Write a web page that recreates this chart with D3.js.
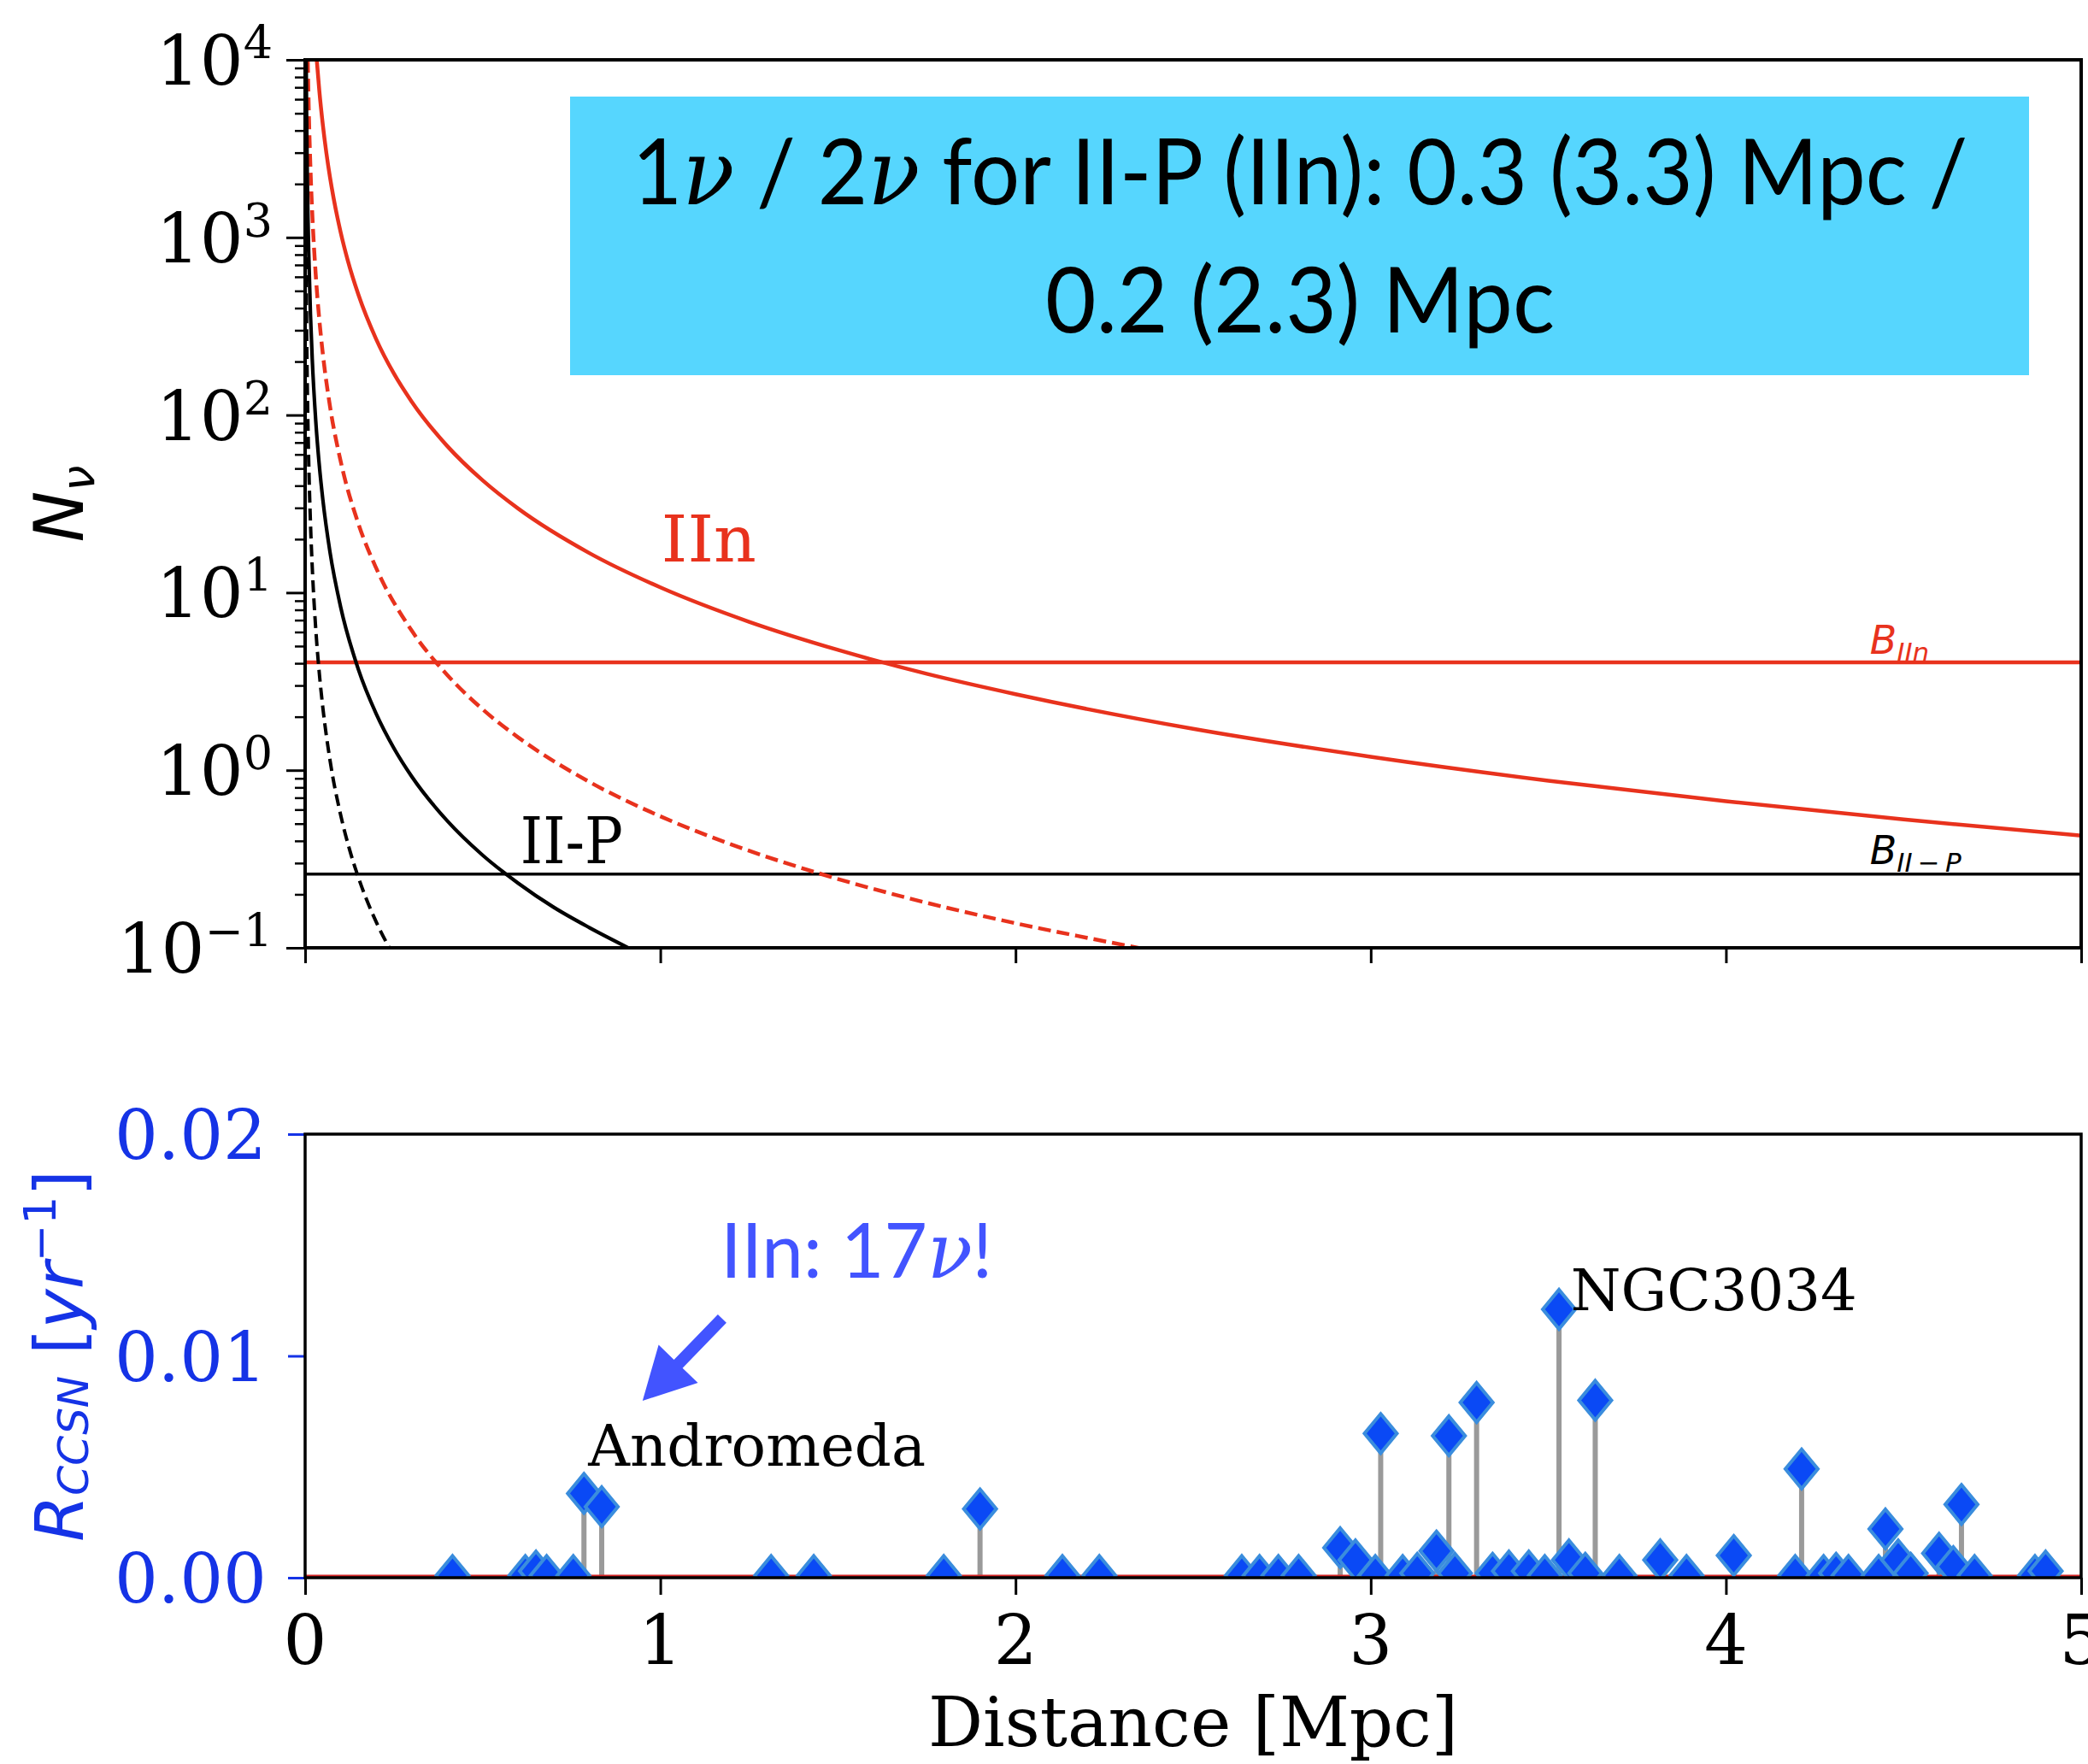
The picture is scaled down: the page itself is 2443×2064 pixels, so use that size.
<!DOCTYPE html>
<html>
<head>
<meta charset="utf-8">
<script src="https://cdn.jsdelivr.net/npm/d3@7"></script>
<style>
  html, body { margin: 0; padding: 0; background: #fff; }
  svg { display: block; }
</style>
</head>
<body>
<svg id="chart" width="2443" height="2064"></svg>
<script>
// ---------------------------------------------------------------
// Expected neutrino counts vs. distance (top) and core-collapse
// supernova rates of nearby galaxies (bottom).
// ---------------------------------------------------------------

// shared x axis (distance, Mpc)
const distanceTicks = [0, 1, 2, 3, 4, 5];
// top panel: log decades of N_nu
const countDecades = [-1, 0, 1, 2, 3, 4];
// bottom panel: rate ticks
const rateTicks = [0, 0.01, 0.02];
const rateTickLabels = ["0.00", "0.01", "0.02"];

// IIn, solid curve
const distIIn   = [0.0327, 0.04, 0.05, 0.06, 0.07, 0.08, 0.1, 0.12, 0.15, 0.2, 0.25, 0.3, 0.4, 0.5, 0.6, 0.8, 1.0, 1.25, 1.5, 1.75, 2.0, 2.5, 3.0, 3.5, 4.0, 4.5, 5.0];
const countsIIn = [10000, 6690, 4280, 2970, 2180, 1670, 1070, 743, 476, 267.5, 171, 119, 66.9, 42.8, 29.7, 16.7, 10.7, 6.85, 4.76, 3.49, 2.68, 1.71, 1.19, 0.873, 0.669, 0.528, 0.428];

// IIn, dashed curve
const distIInDashed   = [0.0074, 0.01, 0.015, 0.02, 0.03, 0.04, 0.05, 0.07, 0.1, 0.15, 0.2, 0.3, 0.4, 0.5, 0.6, 0.8, 1.0, 1.2, 1.44, 1.7, 2.0, 2.2, 2.35];
const countsIInDashed = [10000, 5500, 2444, 1375, 611, 344, 220, 112, 55, 24.4, 13.75, 6.11, 3.44, 2.2, 1.53, 0.86, 0.55, 0.382, 0.265, 0.19, 0.1375, 0.114, 0.0996];

// II-P, solid curve
const distIIP   = [0.0029, 0.004, 0.006, 0.008, 0.01, 0.015, 0.02, 0.03, 0.04, 0.05, 0.07, 0.1, 0.15, 0.2, 0.25, 0.3, 0.4, 0.5, 0.6, 0.7, 0.8, 0.91];
const countsIIP = [9870, 5190, 2306, 1297, 830, 369, 207.5, 92.2, 51.9, 33.2, 16.9, 8.3, 3.69, 2.08, 1.33, 0.922, 0.519, 0.332, 0.231, 0.169, 0.130, 0.100];

// II-P, dashed curve
const distIIPDashed   = [0.00075, 0.001, 0.002, 0.003, 0.005, 0.0075, 0.01, 0.015, 0.02, 0.03, 0.04, 0.05, 0.07, 0.1, 0.125, 0.15, 0.2, 0.237];
const countsIIPDashed = [10000, 5600, 1400, 622, 224, 99.6, 56, 24.9, 14, 6.22, 3.5, 2.24, 1.14, 0.56, 0.358, 0.249, 0.14, 0.1];

// background levels
const backgroundIIn = 4.05;
const backgroundIIP = 0.26;

// nearby galaxies: distance (Mpc) and CCSN rate (1/yr)
const galaxyDistance = [0.415, 0.62, 0.65, 0.68, 0.755, 0.785, 0.835, 1.312, 1.432, 1.798, 1.900, 2.132, 2.236,
  2.637, 2.687, 2.740, 2.797, 2.914, 2.957, 3.013, 3.028, 3.090, 3.131, 3.185, 3.220, 3.237, 3.298, 3.343,
  3.389, 3.445, 3.490, 3.530, 3.558, 3.604, 3.632, 3.700, 3.815, 3.889, 4.022, 4.195, 4.213, 4.275, 4.310,
  4.345, 4.430, 4.449, 4.485, 4.520, 4.600, 4.640, 4.663, 4.700, 4.870, 4.900];
const galaxyRate = [0.0001, 0.0001, 0.0003, 0.0001, 0.0001, 0.0038, 0.0032, 0.0001, 0.0001, 0.0001, 0.0031, 0.0001, 0.0001,
  0.0001, 0.0001, 0.0001, 0.0001, 0.00135, 0.0008, 0.0001, 0.0065, 0.0001, 0.0002, 0.0012, 0.0064, 0.0002, 0.0079, 0.0002,
  0.0003, 0.0003, 0.0001, 0.0121, 0.0008, 0.0002, 0.0080, 0.0001, 0.0008, 0.0001, 0.0010, 0.0001, 0.0049, 0.0001, 0.0002,
  0.0001, 0.0001, 0.0022, 0.0008, 0.0002, 0.0011, 0.0005, 0.0033, 0.0001, 0.0001, 0.0003];

// ---------------------------------------------------------------
const W = 2443, H = 2064;
const L = 357, R = 2435;
const T1 = 70, B1 = 1109;    // top panel
const T2 = 1327, B2 = 1846;  // bottom panel

const RED = "#e8321d";
const BLUE_AX = "#1533e6";
const BLUE_NOTE = "#4254ff";
const SERIF = "'DejaVu Serif', serif";
const SANS = "'DejaVu Sans', sans-serif";
const BOXFONT = "Lato, 'Open Sans', sans-serif";

const svg = d3.select("#chart");
svg.append("rect").attr("width", W).attr("height", H).attr("fill", "#fff");

const x = d3.scaleLinear().domain([0, 5]).range([L, R]);
const yN = d3.scaleLog().domain([0.1, 1e4]).range([B1, T1]);
const yR = d3.scaleLinear().domain([0, 0.02]).range([B2, T2]);

const defs = svg.append("defs");
defs.append("clipPath").attr("id", "clip-top").append("rect")
  .attr("x", L).attr("y", T1).attr("width", R - L).attr("height", B1 - T1);
defs.append("clipPath").attr("id", "clip-bot").append("rect")
  .attr("x", L).attr("y", T2).attr("width", R - L).attr("height", B2 - T2);

// text helper: parts are tspans; optional width fit by horizontal scaling
function addText(parent, px, py, parts, o) {
  const g = parent.append("g")
    .attr("transform", `translate(${px},${py})` + (o.rotate ? ` rotate(${o.rotate})` : ""));
  const t = g.append("text")
    .attr("text-anchor", o.anchor || "start")
    .attr("font-family", o.family || SERIF)
    .attr("font-size", o.size)
    .attr("fill", o.fill || "#000");
  if (o.weight) t.attr("font-weight", o.weight);
  parts.forEach(p => {
    const s = t.append("tspan").text(p.t);
    if (p.size) s.attr("font-size", p.size);
    if (p.style) s.attr("font-style", p.style);
    if (p.family) s.attr("font-family", p.family);
    if (p.weight) s.attr("font-weight", p.weight);
    if (p.dy) s.attr("dy", p.dy);
  });
  if (o.width) {
    const w = t.node().getComputedTextLength();
    if (w > 0) t.attr("transform", `scale(${o.width / w},1)`);
  }
  return t;
}

// ================= TOP PANEL =================
const panelTop = svg.append("g");
const plotTop = panelTop.append("g").attr("clip-path", "url(#clip-top)");

const lineN = (xs, ys) => d3.line()
  .x(i => x(xs[i])).y(i => yN(ys[i]))
  .curve(d3.curveMonotoneX)(d3.range(xs.length));

// background lines
plotTop.append("line")
  .attr("x1", x(0)).attr("x2", x(5)).attr("y1", yN(backgroundIIn)).attr("y2", yN(backgroundIIn))
  .attr("stroke", RED).attr("stroke-width", 4.5);
plotTop.append("line")
  .attr("x1", x(0)).attr("x2", x(5)).attr("y1", yN(backgroundIIP)).attr("y2", yN(backgroundIIP))
  .attr("stroke", "#000").attr("stroke-width", 3.5);

plotTop.append("path").attr("d", lineN(distIInDashed, countsIInDashed))
  .attr("fill", "none").attr("stroke", RED).attr("stroke-width", 4.5).attr("stroke-dasharray", "15,7");
plotTop.append("path").attr("d", lineN(distIIPDashed, countsIIPDashed))
  .attr("fill", "none").attr("stroke", "#000").attr("stroke-width", 4).attr("stroke-dasharray", "14,7");
plotTop.append("path").attr("d", lineN(distIIn, countsIIn))
  .attr("fill", "none").attr("stroke", RED).attr("stroke-width", 4.5);
plotTop.append("path").attr("d", lineN(distIIP, countsIIP))
  .attr("fill", "none").attr("stroke", "#000").attr("stroke-width", 4.2);

// y axis: major and minor ticks
const minorVals = [];
countDecades.slice(0, -1).forEach(k => { for (let m = 2; m <= 9; m++) minorVals.push(m * Math.pow(10, k)); });
panelTop.append("g").attr("transform", `translate(${L},0)`)
  .call(d3.axisLeft(yN).tickValues(minorVals).tickSize(12).tickFormat(""))
  .call(g => g.select(".domain").remove())
  .call(g => g.selectAll("line").attr("stroke", "#000").attr("stroke-width", 2.5));
panelTop.append("g").attr("transform", `translate(${L},0)`)
  .call(d3.axisLeft(yN).tickValues(countDecades.map(k => Math.pow(10, k))).tickSize(22).tickFormat(""))
  .call(g => g.select(".domain").remove())
  .call(g => g.selectAll("line").attr("stroke", "#000").attr("stroke-width", 3));
countDecades.forEach(k => {
  addText(panelTop, 319, yN(Math.pow(10, k)) + 29,
    [{ t: "10" }, { t: k < 0 ? "\u2212" + (-k) : String(k), size: 54, dy: -30 }],
    { anchor: "end", size: 80 });
});

// x ticks (no labels) on top panel
panelTop.append("g").attr("transform", `translate(0,${B1})`)
  .call(d3.axisBottom(x).tickValues(distanceTicks).tickSize(18).tickFormat(""))
  .call(g => g.select(".domain").remove())
  .call(g => g.selectAll("line").attr("stroke", "#000").attr("stroke-width", 3));

// frame
panelTop.append("rect").attr("x", L).attr("y", T1).attr("width", R - L).attr("height", B1 - T1)
  .attr("fill", "none").attr("stroke", "#000").attr("stroke-width", 4);

// curve labels
addText(panelTop, x(1.003), yN(14.96), [{ t: "IIn" }], { size: 74, fill: RED, width: 111 });
addText(panelTop, x(0.606), yN(0.2996), [{ t: "II-P" }], { size: 74, fill: "#000", width: 120 });
addText(panelTop, x(4.405), yN(4.52), [{ t: "B", style: "italic" }, { t: "IIn", style: "italic", size: 31, dy: 9 }],
  { size: 46, family: SANS, fill: RED });
addText(panelTop, x(4.405), yN(0.296), [{ t: "B", style: "italic" }, { t: "II\u2009\u2212\u2009P", style: "italic", size: 31, dy: 9 }],
  { size: 46, family: SANS, fill: "#000" });

// y label
addText(panelTop, 97, (T1 + B1) / 2, [{ t: "N", style: "italic" }, { t: "\u03bd", style: "italic", size: 54, dy: 13 }],
  { size: 80, family: SANS, anchor: "middle", rotate: -90 });

// summary box
panelTop.append("rect").attr("x", 667).attr("y", 113).attr("width", 2374 - 667).attr("height", 439 - 113)
  .attr("fill", "#56d6fe");
const nuPart = { t: "\u03bd", style: "italic", family: SERIF, weight: 400 };
addText(panelTop, 1521, 239,
  [{ t: "1" }, nuPart, { t: " / 2" }, nuPart, { t: " for II-P (IIn): 0.3 (3.3) Mpc /" }],
  { size: 106, family: BOXFONT, weight: 400, anchor: "middle", width: 1563 });
addText(panelTop, 1521, 389, [{ t: "0.2 (2.3) Mpc" }],
  { size: 106, family: BOXFONT, weight: 400, anchor: "middle", width: 596 });

// ================= BOTTOM PANEL =================
const panelBot = svg.append("g");
const plotBot = panelBot.append("g").attr("clip-path", "url(#clip-bot)");

const galaxies = galaxyDistance.map((d, i) => ({ d, r: galaxyRate[i] }));

plotBot.selectAll("line.stem").data(galaxies).join("line").attr("class", "stem")
  .attr("x1", g => x(g.d)).attr("x2", g => x(g.d))
  .attr("y1", yR(0)).attr("y2", g => yR(g.r))
  .attr("stroke", "#9a9a9a").attr("stroke-width", 6);

plotBot.append("line").attr("x1", x(0)).attr("x2", x(5)).attr("y1", yR(0) - 2).attr("y2", yR(0) - 2)
  .attr("stroke", "#d62728").attr("stroke-width", 3);

const diamond = { draw(ctx) { const hw = 19, hh = 23; ctx.moveTo(0, -hh); ctx.lineTo(hw, 0); ctx.lineTo(0, hh); ctx.lineTo(-hw, 0); ctx.closePath(); } };
plotBot.selectAll("path.marker").data(galaxies).join("path").attr("class", "marker")
  .attr("d", d3.symbol().type(diamond)())
  .attr("transform", g => `translate(${x(g.d)},${yR(g.r)})`)
  .attr("fill", "#0a49f5").attr("stroke", "#3a8ddd").attr("stroke-width", 4).attr("stroke-linejoin", "miter");

// y axis (blue)
panelBot.append("g").attr("transform", `translate(${L},0)`)
  .call(d3.axisLeft(yR).tickValues(rateTicks).tickSize(20).tickFormat(""))
  .call(g => g.select(".domain").remove())
  .call(g => g.selectAll("line").attr("stroke", BLUE_AX).attr("stroke-width", 3));
rateTicks.forEach((v, i) => {
  addText(panelBot, 312, yR(v) + 29, [{ t: rateTickLabels[i] }], { anchor: "end", size: 80, fill: BLUE_AX });
});

// x axis
panelBot.append("g").attr("transform", `translate(0,${B2})`)
  .call(d3.axisBottom(x).tickValues(distanceTicks).tickSize(20).tickFormat(""))
  .call(g => g.select(".domain").remove())
  .call(g => g.selectAll("line").attr("stroke", "#000").attr("stroke-width", 3));
distanceTicks.forEach(v => {
  addText(panelBot, x(v), 1947, [{ t: d3.format("d")(v) }], { anchor: "middle", size: 80 });
});

panelBot.append("rect").attr("x", L).attr("y", T2).attr("width", R - L).attr("height", B2 - T2)
  .attr("fill", "none").attr("stroke", "#000").attr("stroke-width", 3.5);

// axis labels
addText(panelBot, (L + R) / 2, 2043, [{ t: "Distance [Mpc]" }], { anchor: "middle", size: 80 });
addText(panelBot, 97, (T2 + B2) / 2,
  [{ t: "R", style: "italic" },
   { t: "CCSN", style: "italic", size: 50, dy: 6 },
   { t: " [", dy: -6 },
   { t: "yr", style: "italic" },
   { t: "\u22121", size: 52, dy: -32 },
   { t: "]", dy: 32 }],
  { size: 78, family: SANS, anchor: "middle", rotate: -90, fill: BLUE_AX });

// galaxy names
addText(panelBot, x(0.797), yR(0.00505), [{ t: "Andromeda" }], { size: 68, width: 395 });
addText(panelBot, x(3.563), yR(0.01206), [{ t: "NGC3034" }], { size: 68, width: 335 });

// note with arrow
addText(panelBot, x(1.170), yR(0.01353),
  [{ t: "IIn: 17" }, { t: "\u03bd", style: "italic", family: SERIF, weight: 400 }, { t: "!" }],
  { size: 89, family: BOXFONT, weight: 400, fill: BLUE_NOTE, width: 318 });

const tail = [x(1.174), yR(0.01168)], tip = [x(0.950), yR(0.00798)];
const ang = Math.atan2(tip[1] - tail[1], tip[0] - tail[0]);
const headLen = 60, headHalf = 32, shaftHalf = 7;
const ux = Math.cos(ang), uy = Math.sin(ang), nx = -uy, ny = ux;
const base = [tip[0] - ux * headLen, tip[1] - uy * headLen];
const arrowPts = [
  [tail[0] + nx * shaftHalf, tail[1] + ny * shaftHalf],
  [base[0] + nx * shaftHalf, base[1] + ny * shaftHalf],
  [base[0] + nx * headHalf, base[1] + ny * headHalf],
  tip,
  [base[0] - nx * headHalf, base[1] - ny * headHalf],
  [base[0] - nx * shaftHalf, base[1] - ny * shaftHalf],
  [tail[0] - nx * shaftHalf, tail[1] - ny * shaftHalf]
];
panelBot.append("path").attr("d", d3.line()(arrowPts) + "Z").attr("fill", BLUE_NOTE);
</script>
</body>
</html>
